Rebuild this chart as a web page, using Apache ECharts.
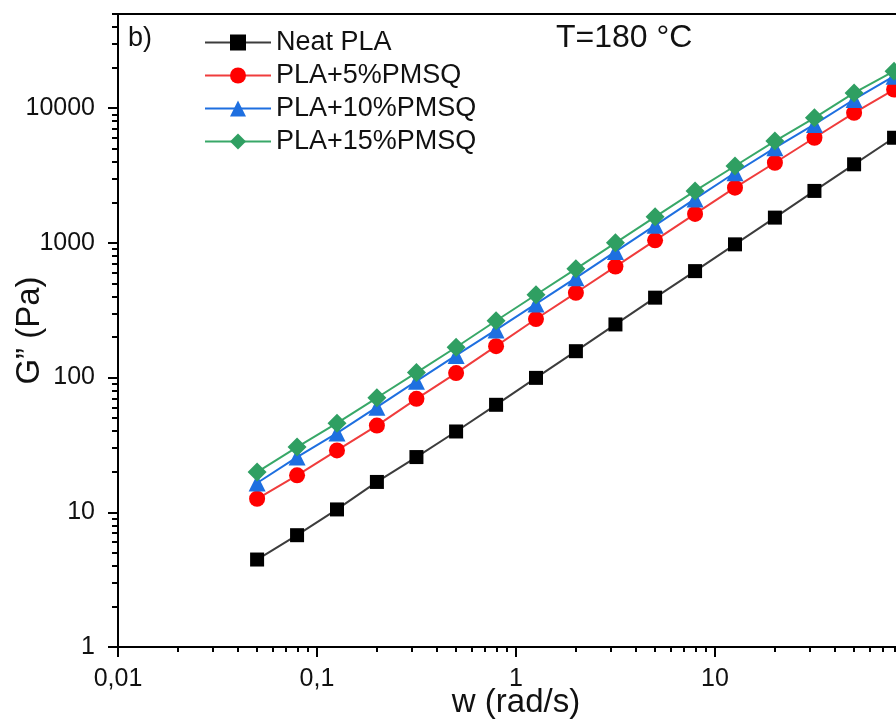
<!DOCTYPE html>
<html>
<head>
<meta charset="utf-8">
<script src="https://cdn.jsdelivr.net/npm/echarts@6/dist/echarts.min.js"></script>
<style>
html,body{margin:0;padding:0;background:#fff;}
#chart{width:896px;height:726px;}
</style>
</head>
<body>
<div id="chart"></div>
<script>
// angular frequency (rad/s)
const omega = [0.05, 0.0794, 0.126, 0.2, 0.316, 0.5, 0.794, 1.26, 2, 3.16, 5, 7.94, 12.6, 20, 31.6, 50, 79.4];
// G'' (Pa)
const neatPLA = [4.46, 6.76, 10.5, 16.8, 25.7, 39.8, 62.8, 99.5, 157, 248, 392, 617, 975, 1540, 2430, 3830, 6030];
const pla5 = [12.6, 18.8, 28.8, 44, 69.5, 108, 171, 272, 426, 667, 1045, 1640, 2570, 3935, 6030, 9230, 13750];
const pla10 = [16.5, 25.7, 38.7, 60.3, 94, 146, 226, 352, 550, 862, 1350, 2120, 3315, 5080, 7570, 11600, 17260];
const pla15 = [19.9, 30.5, 45.9, 70.8, 109, 168, 264, 412, 642, 1000, 1560, 2430, 3720, 5700, 8470, 12980, 18800];
const seriesNames = ['Neat PLA', 'PLA+5%PMSQ', 'PLA+10%PMSQ', 'PLA+15%PMSQ'];
// tick values and labels
const xMajor = [0.01, 0.1, 1, 10, 100];
const xTickLabels = ['0,01', '0,1', '1', '10', ''];
const yMajor = [1, 10, 100, 1000, 10000];
const yTickLabels = ['1', '10', '100', '1000', '10000'];
const xMin = 0.01, xMax = 100, yMin = 1, yMax = 50000;

const FONT = "'Liberation Sans', Arial, sans-serif";
const lg = Math.log10;
function minors(lo, hi) {
  const out = [];
  for (let d = Math.floor(lg(lo)); d < Math.ceil(lg(hi)); d++) {
    for (let k = 2; k <= 9; k++) {
      const v = k * Math.pow(10, d);
      if (v > lo && v <= hi) out.push(lg(v));
    }
  }
  return out;
}
const xMajorL = xMajor.map(lg), yMajorL = yMajor.map(lg);
function labelFor(list, labels) {
  return function (v) {
    for (let i = 0; i < list.length; i++) if (Math.abs(list[i] - v) < 1e-6) return labels[i];
    return '';
  };
}

const pairs = arr => omega.map((w, i) => [w, arr[i]]);
const styles = [
  { symbol: 'rect', size: 14, mark: '#000000', line: '#3c3c3c' },
  { symbol: 'circle', size: 16, mark: '#ff0000', line: '#f03c3c' },
  { symbol: 'triangle', size: 17, mark: '#1e6fe0', line: '#1e6fe0' },
  { symbol: 'diamond', size: 19, mark: '#2f9f62', line: '#38a868' }
];
const dataSets = [neatPLA, pla5, pla10, pla15];

const chart = echarts.init(document.getElementById('chart'));
chart.setOption({
  animation: false,
  backgroundColor: '#fff',
  textStyle: { fontFamily: FONT },
  grid: { left: 118, top: 14, width: 796, height: 633, show: true, borderColor: '#000', borderWidth: 2, backgroundColor: 'transparent', containLabel: false, outerBoundsMode: 'none' },
  xAxis: [
    { type: 'log', logBase: 10, min: xMin, max: xMax, show: false },
    {
      type: 'value', min: lg(xMin), max: lg(xMax), position: 'bottom',
      axisLine: { show: true, onZero: false, lineStyle: { color: '#000', width: 2 } },
      axisTick: { show: true, customValues: xMajorL, length: 10, lineStyle: { color: '#000', width: 2 } },
      axisLabel: { customValues: xMajorL, formatter: labelFor(xMajorL, xTickLabels), margin: 20, color: '#111', fontSize: 25, fontFamily: FONT },
      splitLine: { show: false },
      name: 'w (rad/s)', nameLocation: 'middle', nameGap: 39, nameMoveOverlap: false,
      nameTextStyle: { fontSize: 33, color: '#111', fontFamily: FONT, lineHeight: 33 }
    },
    {
      type: 'value', min: lg(xMin), max: lg(xMax), position: 'bottom',
      axisLine: { show: false, onZero: false },
      axisTick: { show: true, customValues: minors(xMin, xMax), length: 5, lineStyle: { color: '#000', width: 2 } },
      axisLabel: { show: false }, splitLine: { show: false }
    }
  ],
  yAxis: [
    { type: 'log', logBase: 10, min: yMin, max: yMax, show: false },
    {
      type: 'value', min: lg(yMin), max: lg(yMax), position: 'left',
      axisLine: { show: true, onZero: false, lineStyle: { color: '#000', width: 2 } },
      axisTick: { show: true, customValues: yMajorL, length: 10, lineStyle: { color: '#000', width: 2 } },
      axisLabel: { customValues: yMajorL, formatter: labelFor(yMajorL, yTickLabels), margin: 23, color: '#111', fontSize: 25, fontFamily: FONT },
      splitLine: { show: false },
      name: 'G\u201D (Pa)', nameLocation: 'middle', nameGap: 72, nameMoveOverlap: false,
      nameTextStyle: { fontSize: 33, color: '#111', fontFamily: FONT, lineHeight: 33 }
    },
    {
      type: 'value', min: lg(yMin), max: lg(yMax), position: 'left',
      axisLine: { show: false, onZero: false },
      axisTick: { show: true, customValues: minors(yMin, yMax), length: 6, lineStyle: { color: '#000', width: 2 } },
      axisLabel: { show: false }, splitLine: { show: false }
    }
  ],
  legend: {
    left: 204, top: 29, orient: 'vertical', padding: 0,
    itemWidth: 66, itemHeight: 20, itemGap: 6,
    textStyle: { fontSize: 27, color: '#111', fontFamily: FONT, lineHeight: 27 },
    data: seriesNames
  },
  graphic: [
    { type: 'text', left: 128, top: 25, style: { text: 'b)', fontSize: 27, fill: '#111', font: '27px ' + FONT } },
    { type: 'text', left: 556, top: 22, style: { text: 'T=180 \u00B0C', fontSize: 32, fill: '#111', font: '32px ' + FONT } }
  ],
  series: dataSets.map((arr, i) => ({
    name: seriesNames[i],
    type: 'line',
    xAxisIndex: 0, yAxisIndex: 0,
    data: pairs(arr),
    symbol: styles[i].symbol,
    symbolSize: styles[i].size,
    showAllSymbol: true,
    lineStyle: { color: styles[i].line, width: 2 },
    itemStyle: { color: styles[i].mark, borderWidth: 0 },
    z: 2 + i
  }))
});
</script>
</body>
</html>
